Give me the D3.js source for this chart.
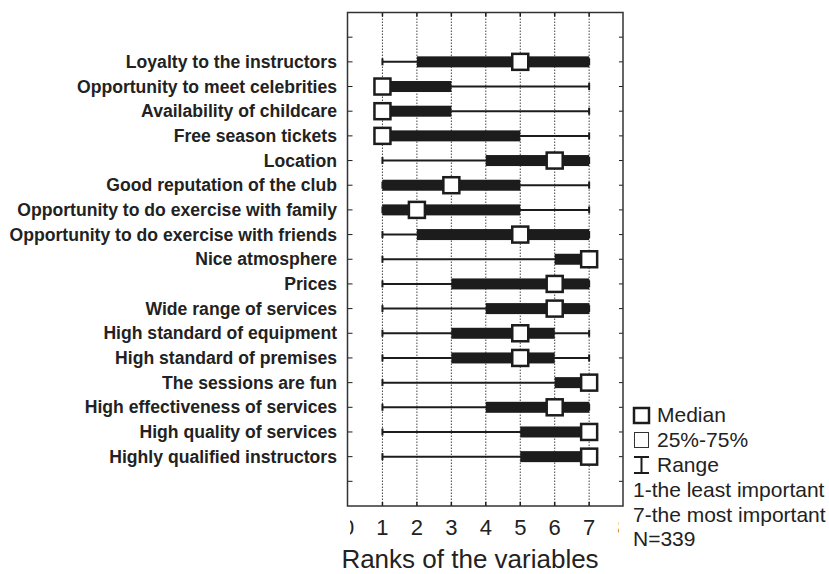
<!DOCTYPE html>
<html>
<head>
<meta charset="utf-8">
<script src="https://cdn.jsdelivr.net/npm/d3@7"></script>
<style>
  body { margin: 0; background: #fff; }
  svg { display: block; font-family: "Liberation Sans", Arial, sans-serif; }
</style>
</head>
<body>
<svg id="chart" width="829" height="574"></svg>
<script>
// Importance ranks of fitness-club attributes (1 = least, 7 = most important)
const categories = [
  "Loyalty to the instructors",
  "Opportunity to meet celebrities",
  "Availability of childcare",
  "Free season tickets",
  "Location",
  "Good reputation of the club",
  "Opportunity to do exercise with family",
  "Opportunity to do exercise with friends",
  "Nice atmosphere",
  "Prices",
  "Wide range of services",
  "High standard of equipment",
  "High standard of premises",
  "The sessions are fun",
  "High effectiveness of services",
  "High quality of services",
  "Highly qualified instructors"
];
const minValues    = [1, 1, 1, 1, 1, 1, 1, 1, 1, 1, 1, 1, 1, 1, 1, 1, 1];
const q1Values     = [2, 1, 1, 1, 4, 1, 1, 2, 6, 3, 4, 3, 3, 6, 4, 5, 5];
const medianValues = [5, 1, 1, 1, 6, 3, 2, 5, 7, 6, 6, 5, 5, 7, 6, 7, 7];
const q3Values     = [7, 3, 3, 5, 7, 5, 5, 7, 7, 7, 7, 6, 6, 7, 7, 7, 7];
const maxValues    = [7, 7, 7, 7, 7, 7, 7, 7, 7, 7, 7, 7, 7, 7, 7, 7, 7];
const xTicks = [0, 1, 2, 3, 4, 5, 6, 7, 8];
const xTitle = "Ranks of the variables";
const legendNotes = ["1-the least important", "7-the most important", "N=339"];

const rows = categories.map((c, i) => ({
  name: c, min: minValues[i], q1: q1Values[i], med: medianValues[i],
  q3: q3Values[i], max: maxValues[i]
}));

const svg = d3.select("#chart");
const ink = "#1c1c1c";
const frame = { left: 347.5, top: 12.5, right: 623, bottom: 506 };

const x = d3.scaleLinear().domain([0, 8]).range([348, 623.6]);
const rowStep = (frame.bottom - frame.top) / 20;
const y = d3.scalePoint()
  .domain(categories)
  .range([frame.top + rowStep * 2, frame.top + rowStep * 18]);

// dotted vertical grid at each rank
svg.append("g").selectAll("line")
  .data(d3.range(1, 8))
  .join("line")
  .attr("x1", d => x(d)).attr("x2", d => x(d))
  .attr("y1", frame.top).attr("y2", frame.bottom)
  .attr("stroke", "#444").attr("stroke-width", 1)
  .attr("stroke-dasharray", "1.5,1.5");

// small inward ticks on top and bottom edges
const xt = svg.append("g");
d3.range(1, 8).forEach(v => {
  xt.append("line").attr("x1", x(v)).attr("x2", x(v))
    .attr("y1", frame.top).attr("y2", frame.top + 4)
    .attr("stroke", ink).attr("stroke-width", 1.5);
  xt.append("line").attr("x1", x(v)).attr("x2", x(v))
    .attr("y1", frame.bottom).attr("y2", frame.bottom - 4)
    .attr("stroke", ink).attr("stroke-width", 1.5);
});

// inward ticks on left and right edges, one per row slot
const tickYs = d3.range(1, 20).map(k => frame.top + rowStep * k);
const yt = svg.append("g");
tickYs.forEach(ty => {
  yt.append("line").attr("x1", frame.left).attr("x2", frame.left + 5)
    .attr("y1", ty).attr("y2", ty).attr("stroke", ink).attr("stroke-width", 1);
  yt.append("line").attr("x1", frame.right).attr("x2", frame.right - 4)
    .attr("y1", ty).attr("y2", ty).attr("stroke", ink).attr("stroke-width", 1);
});

// frame
svg.append("rect")
  .attr("x", frame.left).attr("y", frame.top)
  .attr("width", frame.right - frame.left).attr("height", frame.bottom - frame.top)
  .attr("fill", "none").attr("stroke", "#333").attr("stroke-width", 1.5);

// whiskers, boxes and medians
const g = svg.append("g");
const row = g.selectAll("g.row").data(rows).join("g").attr("class", "row")
  .attr("transform", d => `translate(0,${y(d.name)})`);

row.append("line")
  .attr("x1", d => x(d.min)).attr("x2", d => x(d.max))
  .attr("y1", 0).attr("y2", 0)
  .attr("stroke", ink).attr("stroke-width", 2);
row.append("line")
  .attr("x1", d => x(d.min)).attr("x2", d => x(d.min))
  .attr("y1", -3.5).attr("y2", 3.5).attr("stroke", ink).attr("stroke-width", 2);
row.append("line")
  .attr("x1", d => x(d.max)).attr("x2", d => x(d.max))
  .attr("y1", -3.5).attr("y2", 3.5).attr("stroke", ink).attr("stroke-width", 2);
row.append("rect")
  .attr("x", d => x(d.q1)).attr("width", d => x(d.q3) - x(d.q1))
  .attr("y", -5.5).attr("height", 11)
  .attr("fill", ink);
const ms = 16;
row.append("rect")
  .attr("x", d => x(d.med) - ms / 2).attr("y", -ms / 2)
  .attr("width", ms).attr("height", ms)
  .attr("fill", "#fff").attr("stroke", ink).attr("stroke-width", 2.5);

// category labels
svg.append("g").selectAll("text")
  .data(categories)
  .join("text")
  .attr("x", 337).attr("y", d => y(d))
  .attr("dy", "0.35em")
  .attr("text-anchor", "end")
  .attr("font-weight", "bold")
  .attr("font-size", 17.6)
  .attr("fill", "#222")
  .text(d => d);

// x tick labels (clipped at the plot edges)
svg.append("clipPath").attr("id", "tickclip")
  .append("rect").attr("x", 350).attr("y", 505).attr("width", 269).attr("height", 40);
svg.append("g").attr("clip-path", "url(#tickclip)")
  .selectAll("text").data(xTicks).join("text")
  .attr("x", d => x(d)).attr("y", 535)
  .attr("text-anchor", "middle")
  .attr("font-size", 22).attr("fill", "#222")
  .text(d => d);

svg.append("text")
  .attr("x", 470).attr("y", 568)
  .attr("text-anchor", "middle")
  .attr("font-size", 26).attr("fill", "#222")
  .text(xTitle);

// legend
const lg = svg.append("g");
const lx = 633, tx = 657;
lg.append("rect").attr("x", lx + 1).attr("y", 408).attr("width", 15).attr("height", 15)
  .attr("fill", "#fff").attr("stroke", ink).attr("stroke-width", 2.5);
lg.append("text").attr("x", tx).attr("y", 422).attr("font-size", 21).attr("fill", "#222").text("Median");
lg.append("rect").attr("x", lx + 1.5).attr("y", 432.5).attr("width", 14).attr("height", 15)
  .attr("fill", "#fff").attr("stroke", "#333").attr("stroke-width", 1);
lg.append("text").attr("x", tx).attr("y", 447).attr("font-size", 21).attr("fill", "#222").text("25%-75%");
lg.append("line").attr("x1", lx + 8.5).attr("x2", lx + 8.5).attr("y1", 456).attr("y2", 474)
  .attr("stroke", ink).attr("stroke-width", 2);
lg.append("line").attr("x1", lx + 1).attr("x2", lx + 16).attr("y1", 457).attr("y2", 457)
  .attr("stroke", ink).attr("stroke-width", 2);
lg.append("line").attr("x1", lx + 1).attr("x2", lx + 16).attr("y1", 473).attr("y2", 473)
  .attr("stroke", ink).attr("stroke-width", 2);
lg.append("text").attr("x", tx).attr("y", 472).attr("font-size", 21).attr("fill", "#222").text("Range");
legendNotes.forEach((t, i) => {
  lg.append("text").attr("x", lx).attr("y", 497 + i * 24.5)
    .attr("font-size", 21).attr("fill", "#222").text(t);
});
</script>
</body>
</html>
